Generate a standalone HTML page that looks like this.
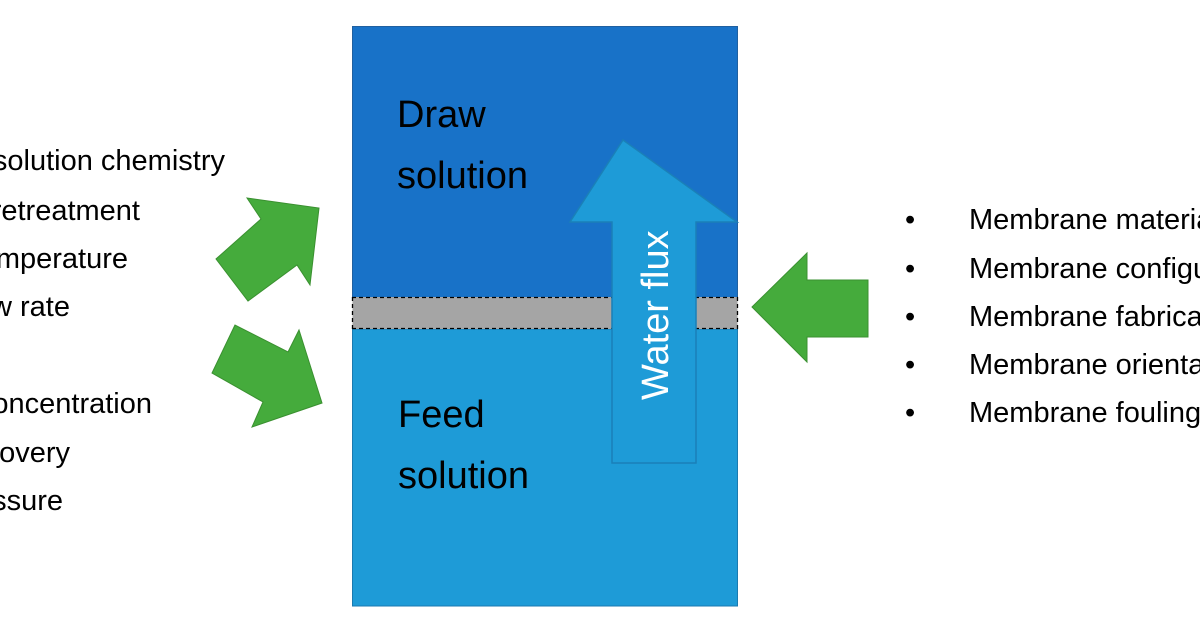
<!DOCTYPE html>
<html><head><meta charset="utf-8"><style>
html,body{margin:0;padding:0;background:#fff;width:1200px;height:630px;overflow:hidden}
text{font-family:"Liberation Sans",sans-serif;fill:#000}
</style></head><body>
<svg width="1200" height="630" viewBox="0 0 1200 630" xmlns="http://www.w3.org/2000/svg">
<rect x="352.5" y="26.5" width="385" height="271" fill="#1872C8" stroke="#2060a0" stroke-width="1"/>
<rect x="352.5" y="329" width="385" height="277" fill="#1E9BD7" stroke="#1a7ab0" stroke-width="1"/>
<rect x="352.5" y="297" width="385" height="32" fill="#A5A5A5"/>
<line x1="352" y1="297.5" x2="738" y2="297.5" stroke="#000" stroke-width="1.3" stroke-dasharray="4,3"/>
<line x1="352" y1="328.5" x2="738" y2="328.5" stroke="#000" stroke-width="1.3" stroke-dasharray="4,3"/>
<line x1="352.5" y1="297" x2="352.5" y2="329" stroke="#000" stroke-width="1.3" stroke-dasharray="4,3"/>
<line x1="737.5" y1="297" x2="737.5" y2="329" stroke="#000" stroke-width="1.3" stroke-dasharray="4,3"/>
<polygon points="623,140 737,222 696,222 696,463 612,463 612,222 570,222" fill="#1E9BD7" stroke="#1a80b8" stroke-width="1.5"/>
<text transform="translate(668,400) rotate(-90)" font-size="38" style="fill:#fff">Water flux</text>
<text x="397" y="127" font-size="38">Draw</text>
<text x="397" y="188" font-size="38">solution</text>
<text x="398" y="427" font-size="38">Feed</text>
<text x="398" y="488" font-size="38">solution</text>
<polygon points="247,198 261,219 216,259 248,301 297,265 310,285 319,208" fill="#45AB3C" stroke="#3a9030" stroke-width="1"/>
<polygon points="235,325 212,373 263,402 252,427 322,403 299,330 288,352" fill="#45AB3C" stroke="#3a9030" stroke-width="1"/>
<polygon points="752,307 807,253 807,280 868,280 868,337 807,337 807,362" fill="#45AB3C" stroke="#3a9030" stroke-width="1"/>
<g font-size="29" text-anchor="end">
<text x="225" y="170">Draw solution chemistry</text>
<text x="140" y="220">Pretreatment</text>
<text x="128" y="268">Temperature</text>
<text x="70" y="316">Flow rate</text>
<text x="152" y="413">Concentration</text>
<text x="70" y="462">Recovery</text>
<text x="63" y="510">Pressure</text>
</g>
<g font-size="29">
<text x="905" y="229">•</text><text x="969" y="229">Membrane material</text>
<text x="905" y="278">•</text><text x="969" y="278">Membrane configuration</text>
<text x="905" y="326">•</text><text x="969" y="326">Membrane fabrication</text>
<text x="905" y="374">•</text><text x="969" y="374">Membrane orientation</text>
<text x="905" y="422">•</text><text x="969" y="422">Membrane fouling</text>
</g>
</svg>
</body></html>
